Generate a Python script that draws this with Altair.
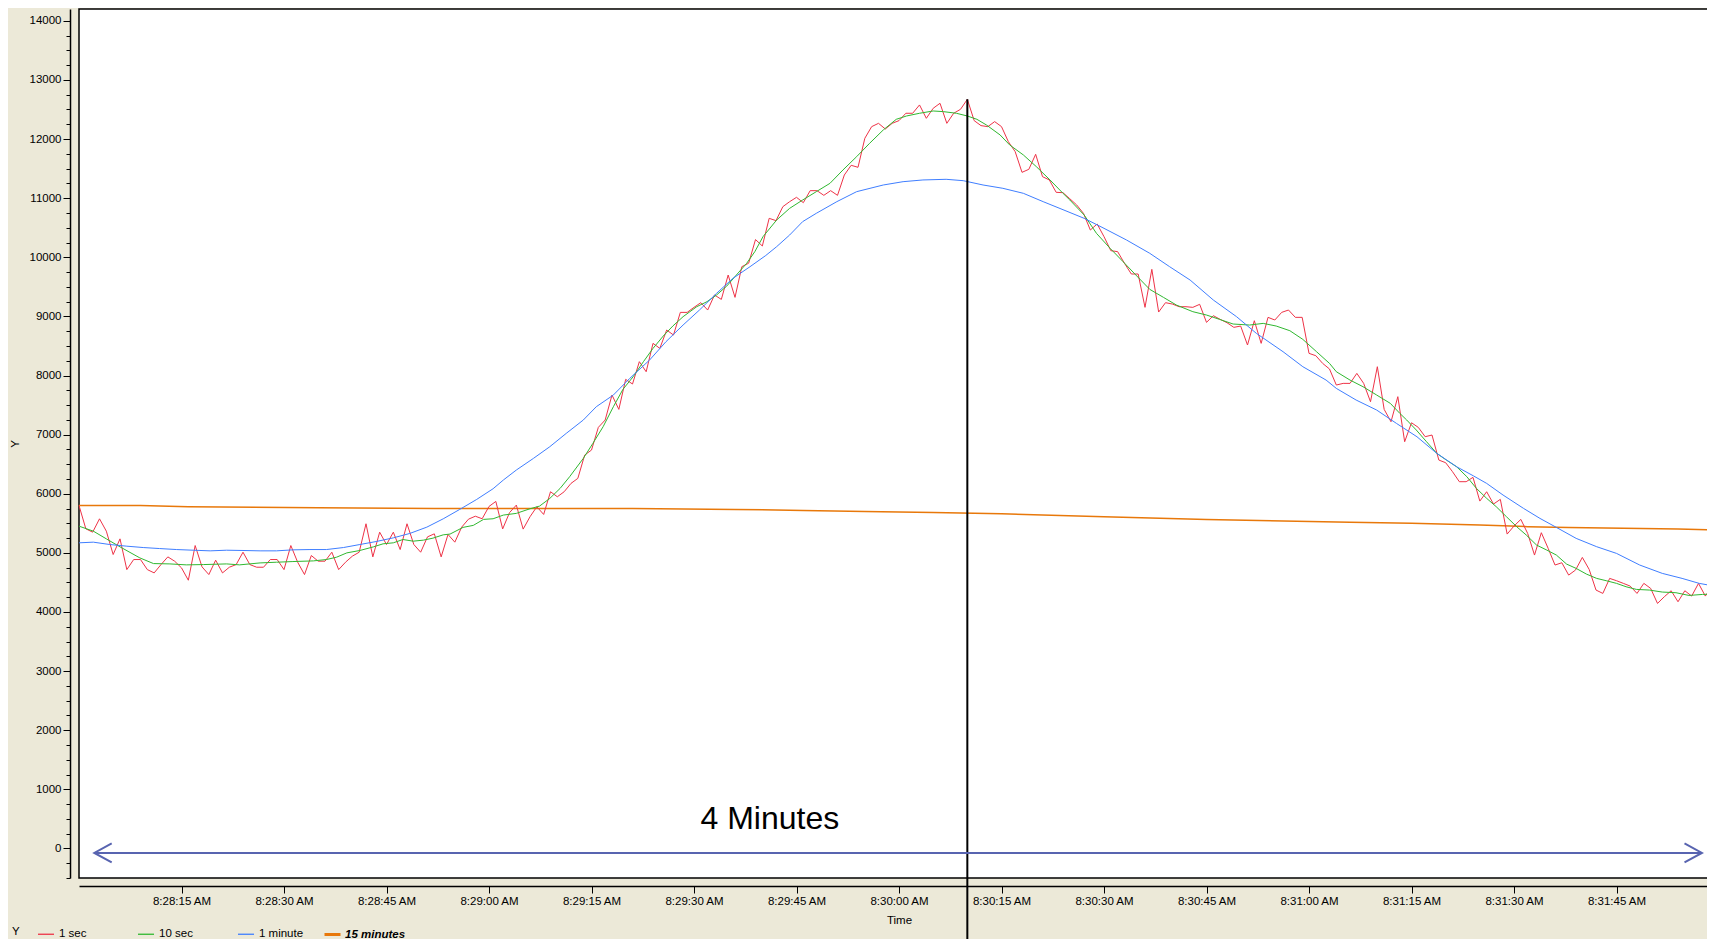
import altair as alt
import pandas as pd

FONT = "Liberation Sans"

# ---- data (t = seconds after 8:28:00 AM) ----
T_RED = list(range(240))
RED = [
    5802, 5407, 5350, 5576, 5367, 4972, 5237, 4717, 4887, 4887,
    4717, 4661, 4802, 4932, 4859, 4746, 4537, 5124, 4763, 4633,
    4876, 4661, 4757, 4802, 5011, 4802, 4757, 4757, 4887, 4887,
    4717, 5124, 4842, 4633, 4955, 4859, 4859, 5011, 4717, 4842,
    4944, 5011, 5492, 4932, 5350, 5141, 5350, 5056, 5492, 5141,
    5011, 5271, 5322, 4932, 5311, 5181, 5435, 5570, 5620, 5577,
    5785, 5870, 5405, 5680, 5808, 5402, 5611, 5780, 5650, 6034,
    5949, 6034, 6175, 6260, 6654, 6739, 7123, 7247, 7670, 7427,
    7935, 7856, 8234, 8064, 8544, 8459, 8769, 8685, 9068, 9068,
    9153, 9232, 9108, 9362, 9288, 9700, 9322, 9841, 9900, 10300,
    10191, 10659, 10620, 10856, 10941, 11014, 10924, 11127, 11127, 11048,
    11127, 11048, 11392, 11556, 11522, 12013, 12210, 12266, 12170, 12266,
    12312, 12436, 12436, 12577, 12351, 12520, 12605, 12266, 12436, 12503,
    12672, 12312, 12227, 12210, 12295, 12210, 11956, 11787, 11437, 11488,
    11742, 11364, 11308, 11099, 11093, 10990, 10885, 10743, 10461, 10563,
    10349, 10112, 10095, 9897, 9717, 9717, 9153, 9796, 9074, 9232,
    9209, 9164, 9164, 9153, 9204, 8899, 9012, 8950, 8893, 8815,
    8837, 8516, 8927, 8544, 8984, 8939, 9068, 9108, 8984, 8984,
    8375, 8335, 8205, 8110, 7839, 7867, 7867, 8036, 7867, 7557,
    8149, 7427, 7218, 7642, 6880, 7201, 7122, 6965, 6993, 6570,
    6525, 6373, 6204, 6204, 6277, 5876, 6034, 5826, 5905, 5318,
    5454, 5566, 5329, 4963, 5341, 5076, 4794, 4833, 4624, 4709,
    4923, 4720, 4371, 4314, 4568, 4529, 4484, 4438, 4314, 4484,
    4399, 4145, 4258, 4359, 4173, 4359, 4269, 4484, 4269, 4438,
]

T_GREEN = [
    0, 2.1, 4, 6, 8.9, 10.9, 13.3, 15.7, 18.2, 21.6,
    23.5, 26.5, 28.9, 31.3, 34.3, 36.2, 37.7, 39.2, 41.1, 43.1,
    44.5, 46, 47.4, 48.9, 50.4, 51.8, 53.3, 54.3, 56.2, 57.7,
    59.2, 60.6, 62.1, 64, 66, 67.4, 68.9, 70.4, 71.8, 73.8,
    75.2, 76.7, 78.2, 79.6, 81.1, 82.6, 84, 85.5, 86.9, 88.4,
    90.4, 91.9, 93.3, 94.8, 96.2, 97.7, 98.9, 100.1, 102.1, 104,
    105.9, 107.9, 109.9, 111.8, 113.8, 115.7, 117.7, 119.6, 121.1, 123,
    125, 126.5, 128.4, 130, 131.4, 132.8, 134.8, 136.2, 138.2, 140.1,
    142.1, 144, 145, 147.1, 148.9, 150.9, 152.8, 154.8, 156.7, 158.7,
    160.6, 163, 165, 166.9, 168.9, 171.3, 173.3, 175.2, 177.2, 179.1,
    181.1, 183, 184, 186, 187.9, 189.9, 191.9, 193.3, 194.3, 195.7,
    197.2, 198.7, 200.1, 201.6, 203.1, 204.5, 206, 207.4, 208.9, 210.4,
    211.8, 213.3, 214.8, 216.2, 217.7, 219.1, 220.6, 222.1, 223.5, 225,
    226.4, 227.9, 229.8, 231.7, 233.7, 235.6, 237.6, 239.3,
]
GREEN = [
    5452, 5367, 5237, 5102, 4915, 4819, 4813, 4797, 4802, 4813,
    4797, 4830, 4842, 4853, 4864, 4887, 4927, 5000, 5040, 5102,
    5153, 5170, 5226, 5198, 5215, 5249, 5305, 5318, 5431, 5465,
    5566, 5577, 5639, 5668, 5746, 5791, 5921, 6090, 6288, 6598,
    6852, 7134, 7472, 7766, 7980, 8234, 8459, 8668, 8837, 8995,
    9164, 9249, 9362, 9514, 9700, 9897, 10095, 10349, 10631, 10828,
    10969, 11110, 11251, 11477, 11702, 11928, 12154, 12334, 12390, 12436,
    12475, 12464, 12436, 12390, 12334, 12238, 12069, 11900, 11731, 11533,
    11308, 11082, 10969, 10715, 10405, 10151, 9925, 9683, 9457, 9322,
    9192, 9080, 9023, 8950, 8871, 8854, 8882, 8837, 8758, 8611,
    8403, 8205, 8064, 7923, 7811, 7670, 7529, 7359, 7247, 7078,
    6880, 6683, 6570, 6457, 6288, 6091, 5922, 5781, 5611, 5442,
    5301, 5132, 5047, 4963, 4810, 4737, 4641, 4568, 4529, 4484,
    4427, 4382, 4371, 4337, 4326, 4280, 4297, 4303,
]

T_BLUE = [
    0, 2.1, 4.5, 7, 9.4, 11.8, 14.3, 16.7, 19.2, 21.6,
    24, 26.5, 28.9, 31.3, 33.8, 36.2, 38.7, 41.1, 43.5, 46,
    48.4, 50.9, 53.3, 55.7, 58.2, 60.6, 62.1, 64, 66.5, 68.9,
    71.3, 73.8, 75.7, 78.2, 80.6, 83.5, 85.9, 88.4, 90.8, 93.3,
    95.7, 98.2, 100.5, 102.1, 104, 105.9, 107.9, 110.9, 113.8, 117.7,
    120.6, 123.5, 126.9, 129.4, 132.3, 135.2, 138.2, 141.1, 144, 147.1,
    150, 153.3, 156.7, 159.6, 162.6, 166, 169.4, 172.3, 176.2, 179.1,
    182.5, 184, 186.9, 189.9, 192.8, 195.8, 198.7, 201.6, 204.1, 206,
    208.4, 211.4, 213.8, 216.2, 219.1, 222.1, 225, 228.4, 231.7, 234.6,
    237.1, 239.3,
]
BLUE = [
    5170, 5181, 5141, 5113, 5090, 5073, 5056, 5045, 5034, 5045,
    5040, 5034, 5034, 5051, 5056, 5056, 5090, 5141, 5192, 5254,
    5328, 5435, 5576, 5734, 5904, 6085, 6232, 6401, 6598, 6796,
    7021, 7247, 7472, 7670, 7952, 8262, 8572, 8854, 9108, 9390,
    9644, 9841, 10030, 10180, 10377, 10603, 10744, 10941, 11110, 11223,
    11279, 11308, 11319, 11296, 11223, 11167, 11082, 10941, 10805, 10659,
    10490, 10292, 10067, 9841, 9615, 9277, 8995, 8713, 8403, 8149,
    7923, 7782, 7585, 7416, 7190, 6964, 6683, 6457, 6300, 6175,
    5978, 5752, 5583, 5431, 5245, 5104, 4991, 4794, 4653, 4568,
    4484, 4438,
]

T_ORANGE = [0, 9, 16, 35, 52, 81, 96, 106, 115, 125, 135, 150, 165, 186, 195,
            205, 212, 218, 226, 234, 240]
ORANGE = [5802, 5800, 5780, 5763, 5752, 5750, 5734, 5718, 5701, 5684, 5660, 5610,
          5565, 5516, 5499, 5470, 5443, 5431, 5415, 5404, 5387]

SERIES_MAIN = ["1 sec", "10 sec", "1 minute"]
COLORS_MAIN = ["#EE3347", "#30B830", "#3F7EFF"]
SERIES_SLOW = ["15 minutes"]
COLORS_SLOW = ["#E8780A"]

X_TICKS = [15, 30, 45, 60, 75, 90, 105, 120, 135, 150, 165, 180, 195, 210, 225]
X_TICK_LABELS = ["8:28:15 AM", "8:28:30 AM", "8:28:45 AM", "8:29:00 AM",
                 "8:29:15 AM", "8:29:30 AM", "8:29:45 AM", "8:30:00 AM",
                 "8:30:15 AM", "8:30:30 AM", "8:30:45 AM", "8:31:00 AM",
                 "8:31:15 AM", "8:31:30 AM", "8:31:45 AM"]
Y_TICKS = list(range(-500, 14001, 250))

MARKER_T = [130]
MARKER_TOP = [12672]
SPAN_T = [2.24, 237.5]
SPAN_V = [-75]
NOTE_T = [101.1]
NOTE_V = [496]
NOTE_TEXT = ["4 Minutes"]

# ---- tables ----
main_df = pd.concat([
    pd.DataFrame({"t": T_RED, "v": RED, "series": SERIES_MAIN[0]}),
    pd.DataFrame({"t": T_GREEN, "v": GREEN, "series": SERIES_MAIN[1]}),
    pd.DataFrame({"t": T_BLUE, "v": BLUE, "series": SERIES_MAIN[2]}),
], ignore_index=True)
slow_df = pd.DataFrame({"t": T_ORANGE, "v": ORANGE, "series": SERIES_SLOW[0]})
marker_df = pd.DataFrame({"t": MARKER_T, "v": MARKER_TOP, "v2": [-3000]})
span_df = pd.DataFrame({"t": [SPAN_T[0]], "t2": [SPAN_T[1]], "v": SPAN_V})
head_l = pd.DataFrame({"t": [SPAN_T[0]], "v": SPAN_V})
head_r = pd.DataFrame({"t": [SPAN_T[1]], "v": SPAN_V})
note_df = pd.DataFrame({"t": NOTE_T, "v": NOTE_V, "label": NOTE_TEXT})

xscale = alt.Scale(domain=[0, 240], nice=False, zero=False)
yscale = alt.Scale(domain=[-500, 14200], nice=False, zero=False)

x_label_expr = f"{X_TICK_LABELS}[indexof({X_TICKS}, datum.value)]"

x_axis = alt.Axis(
    values=X_TICKS, labelExpr=x_label_expr, title="Time", offset=8,
    tickSize=7, tickColor="black", tickWidth=1, domainColor="black", domainWidth=1.5,
    labelFont=FONT, labelFontSize=11.5, labelColor="black", labelPadding=2,
    labelFlush=False, labelOverlap=False, grid=False,
    titleFont=FONT, titleFontSize=11.5, titleFontWeight="normal", titleColor="black",
    titlePadding=8,
)
y_axis = alt.Axis(
    values=Y_TICKS, format="d",
    labelExpr="datum.value >= 0 && datum.value % 1000 === 0 ? datum.label : ''",
    tickSize={"condition": {"test": "datum.value % 1000 === 0", "value": 7}, "value": 4},
    offset=9, tickColor="black", tickWidth=1, domainColor="black", domainWidth=1.5,
    labelFont=FONT, labelFontSize=11.5, labelColor="black", labelPadding=2,
    labelOverlap=False, labelFlush=False, grid=False,
    title="Y", titleFont=FONT, titleFontSize=11.5, titleFontWeight="normal",
    titleColor="black", titlePadding=9,
)

X = alt.X("t:Q", scale=xscale, axis=x_axis)
Y = alt.Y("v:Q", scale=yscale, axis=y_axis)

slow = alt.Chart(slow_df).mark_line(strokeWidth=1.5).encode(
    x=X, y=Y,
    color=alt.Color("series:N", scale=alt.Scale(domain=SERIES_SLOW, range=COLORS_SLOW),
                    legend=alt.Legend(
                        orient="none", legendX=244, legendY=916, direction="horizontal",
                        title=None, symbolType="stroke", symbolSize=256,
                        symbolStrokeWidth=3, labelFont=FONT, labelFontSize=11.5,
                        labelColor="black", labelFontWeight="bold",
                        labelFontStyle="italic", labelOffset=3, padding=0)),
)

fast = alt.Chart(main_df).mark_line(strokeWidth=1).encode(
    x=X, y=Y,
    color=alt.Color("series:N", scale=alt.Scale(domain=SERIES_MAIN, range=COLORS_MAIN),
                    legend=alt.Legend(
                        orient="none", legendX=-67, legendY=916, direction="horizontal",
                        columns=3, gridAlign="all", columnPadding=31,
                        title="Y", titleOrient="left", titlePadding=17, titleFont=FONT,
                        titleFontSize=11.5, titleFontWeight="normal", titleColor="black",
                        symbolType="stroke", symbolSize=256, symbolStrokeWidth=1.3,
                        labelFont=FONT, labelFontSize=11.5, labelColor="black",
                        labelOffset=4, padding=0)),
    detail="series:N",
)

marker = alt.Chart(marker_df).mark_rule(color="black", strokeWidth=2, clip=False).encode(
    x=X, y=Y, y2="v2:Q")

span = alt.Chart(span_df).mark_rule(color="#5864B0", strokeWidth=2).encode(
    x=X, x2="t2:Q", y=Y)

left_head = alt.Chart(head_l).mark_point(
    shape="M1.74,-0.95L0,0L1.74,0.95", size=400, filled=False, strokeWidth=2,
    color="#5864B0", opacity=1).encode(x=X, y=Y)
right_head = alt.Chart(head_r).mark_point(
    shape="M-1.74,-0.95L0,0L-1.74,0.95", size=400, filled=False, strokeWidth=2,
    color="#5864B0", opacity=1).encode(x=X, y=Y)

note = alt.Chart(note_df).mark_text(
    font=FONT, fontSize=32, color="black", align="center", baseline="middle").encode(
    x=X, y=Y, text="label:N")

chart = alt.layer(slow, fast, marker, span, left_head, right_head, note).resolve_scale(
    color="independent").properties(
    width=1640, height=869,
    autosize=alt.AutoSizeParams(type="none"),
    padding={"left": 71, "top": 1, "right": -12, "bottom": 61},
    background="#ECE9D8",
).configure_view(stroke="black", strokeWidth=1.5, fill="white")

chart.save("out.html", embed_options={"renderer": "svg", "actions": False})
